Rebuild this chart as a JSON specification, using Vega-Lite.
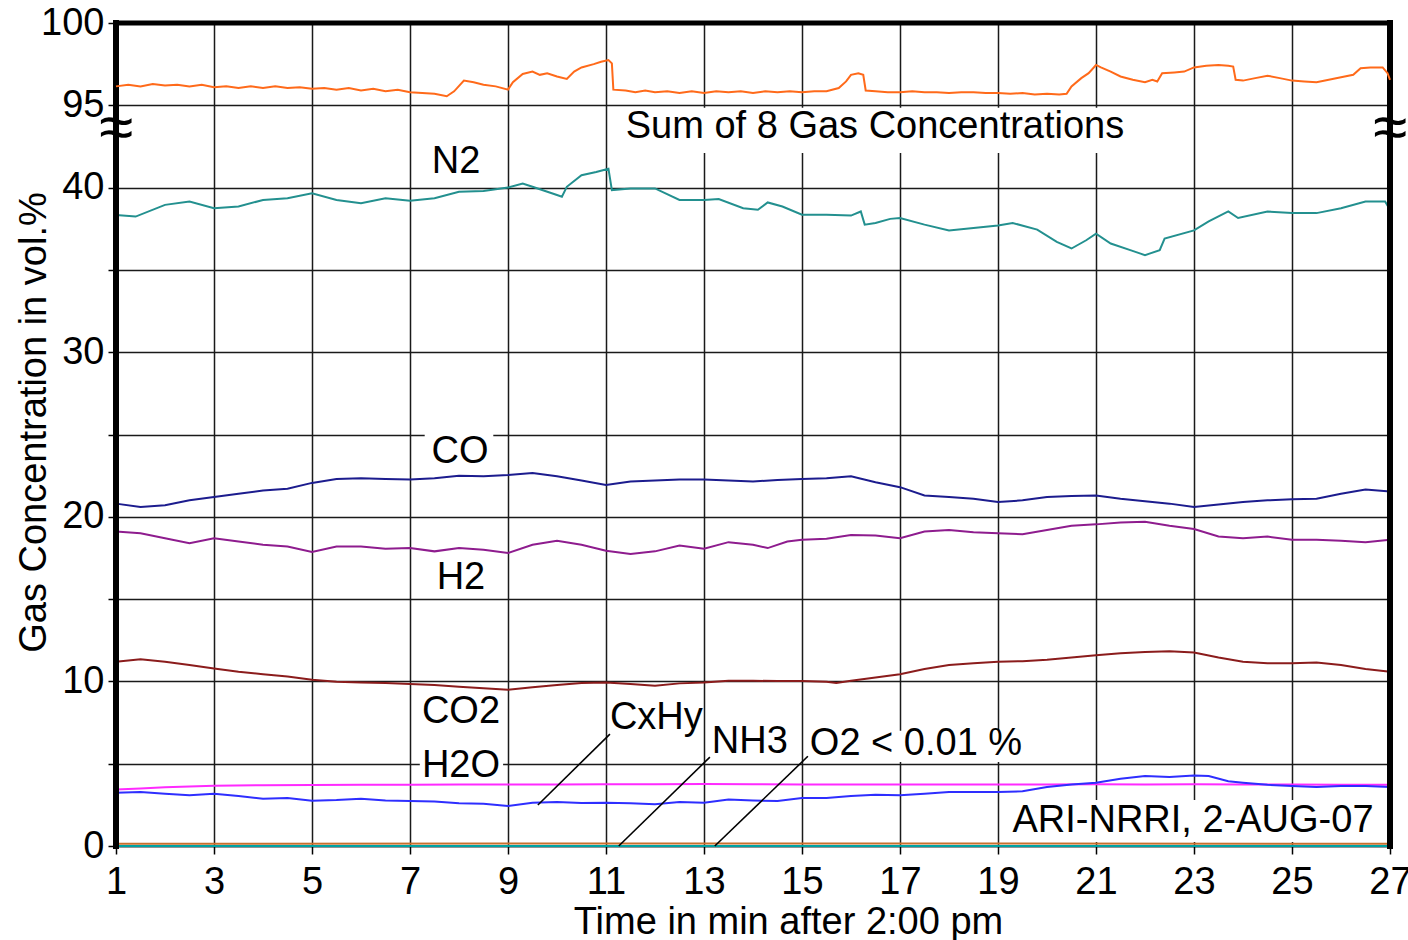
{
  "$schema": "https://vega.github.io/schema/vega-lite/v6.json",
  "width": 1274,
  "height": 823,
  "autosize": "none",
  "padding": {"left": 116, "top": 23, "right": 18, "bottom": 94},
  "background": "white",
  "config": {
    "font": "Liberation Sans",
    "view": {"stroke": null},
    "axis": {
      "labelFont": "Liberation Sans",
      "labelFontSize": 38,
      "labelColor": "black",
      "titleFont": "Liberation Sans",
      "titleFontSize": 38,
      "titleFontWeight": "normal",
      "titleColor": "black",
      "tickColor": "black",
      "tickWidth": 1.5,
      "gridColor": "#1a1a1a",
      "gridWidth": 1.5,
      "gridOpacity": 1,
      "labelOverlap": false,
      "labelBound": false,
      "labelFlush": false
    }
  },
  "datasets": {
    "gases": [
      {"gas":"N2","t":1.0,"v":38.34},{"gas":"N2","t":1.4,"v":38.24},{"gas":"N2","t":2.0,"v":38.95},{"gas":"N2","t":2.5,"v":39.15},{"gas":"N2","t":3.0,"v":38.75},{"gas":"N2","t":3.5,"v":38.85},{"gas":"N2","t":4.0,"v":39.25},{"gas":"N2","t":4.5,"v":39.35},{"gas":"N2","t":5.0,"v":39.65},{"gas":"N2","t":5.5,"v":39.25},{"gas":"N2","t":6.0,"v":39.05},{"gas":"N2","t":6.5,"v":39.35},{"gas":"N2","t":7.0,"v":39.2},{"gas":"N2","t":7.5,"v":39.35},{"gas":"N2","t":8.0,"v":39.75},{"gas":"N2","t":8.5,"v":39.8},{"gas":"N2","t":9.0,"v":40.0},{"gas":"N2","t":9.3,"v":40.25},{"gas":"N2","t":9.5,"v":40.05},{"gas":"N2","t":10.0,"v":39.55},{"gas":"N2","t":10.1,"v":39.45},{"gas":"N2","t":10.2,"v":40.05},{"gas":"N2","t":10.5,"v":40.75},{"gas":"N2","t":10.8,"v":40.95},{"gas":"N2","t":11.05,"v":41.15},{"gas":"N2","t":11.12,"v":39.85},{"gas":"N2","t":11.5,"v":39.95},{"gas":"N2","t":12.0,"v":39.95},{"gas":"N2","t":12.5,"v":39.25},{"gas":"N2","t":13.0,"v":39.25},{"gas":"N2","t":13.3,"v":39.3},{"gas":"N2","t":13.8,"v":38.75},{"gas":"N2","t":14.1,"v":38.65},{"gas":"N2","t":14.3,"v":39.1},{"gas":"N2","t":14.6,"v":38.85},{"gas":"N2","t":15.0,"v":38.35},{"gas":"N2","t":15.5,"v":38.35},{"gas":"N2","t":16.0,"v":38.3},{"gas":"N2","t":16.2,"v":38.55},{"gas":"N2","t":16.28,"v":37.75},{"gas":"N2","t":16.5,"v":37.85},{"gas":"N2","t":16.8,"v":38.1},{"gas":"N2","t":17.0,"v":38.15},{"gas":"N2","t":17.5,"v":37.75},{"gas":"N2","t":18.0,"v":37.4},{"gas":"N2","t":18.5,"v":37.55},{"gas":"N2","t":19.0,"v":37.7},{"gas":"N2","t":19.3,"v":37.85},{"gas":"N2","t":19.8,"v":37.45},{"gas":"N2","t":20.2,"v":36.7},{"gas":"N2","t":20.5,"v":36.3},{"gas":"N2","t":20.8,"v":36.8},{"gas":"N2","t":21.0,"v":37.2},{"gas":"N2","t":21.3,"v":36.6},{"gas":"N2","t":21.7,"v":36.2},{"gas":"N2","t":22.0,"v":35.9},{"gas":"N2","t":22.3,"v":36.2},{"gas":"N2","t":22.4,"v":36.9},{"gas":"N2","t":23.0,"v":37.4},{"gas":"N2","t":23.3,"v":37.95},{"gas":"N2","t":23.7,"v":38.55},{"gas":"N2","t":23.9,"v":38.15},{"gas":"N2","t":24.5,"v":38.55},{"gas":"N2","t":25.0,"v":38.45},{"gas":"N2","t":25.5,"v":38.45},{"gas":"N2","t":26.0,"v":38.75},{"gas":"N2","t":26.5,"v":39.15},{"gas":"N2","t":26.9,"v":39.15},{"gas":"N2","t":27.0,"v":38.65},
      {"gas":"CO","t":1.0,"v":20.8},{"gas":"CO","t":1.5,"v":20.6},{"gas":"CO","t":2.0,"v":20.7},{"gas":"CO","t":2.5,"v":21.0},{"gas":"CO","t":3.0,"v":21.2},{"gas":"CO","t":3.5,"v":21.4},{"gas":"CO","t":4.0,"v":21.6},{"gas":"CO","t":4.5,"v":21.7},{"gas":"CO","t":5.0,"v":22.06},{"gas":"CO","t":5.5,"v":22.3},{"gas":"CO","t":6.0,"v":22.34},{"gas":"CO","t":6.5,"v":22.3},{"gas":"CO","t":7.0,"v":22.26},{"gas":"CO","t":7.5,"v":22.34},{"gas":"CO","t":8.0,"v":22.5},{"gas":"CO","t":8.5,"v":22.46},{"gas":"CO","t":9.0,"v":22.54},{"gas":"CO","t":9.5,"v":22.66},{"gas":"CO","t":10.0,"v":22.46},{"gas":"CO","t":10.5,"v":22.2},{"gas":"CO","t":11.0,"v":21.94},{"gas":"CO","t":11.5,"v":22.14},{"gas":"CO","t":12.0,"v":22.2},{"gas":"CO","t":12.5,"v":22.26},{"gas":"CO","t":13.0,"v":22.26},{"gas":"CO","t":13.5,"v":22.2},{"gas":"CO","t":14.0,"v":22.14},{"gas":"CO","t":14.5,"v":22.24},{"gas":"CO","t":15.0,"v":22.3},{"gas":"CO","t":15.5,"v":22.34},{"gas":"CO","t":16.0,"v":22.46},{"gas":"CO","t":16.5,"v":22.1},{"gas":"CO","t":17.0,"v":21.8},{"gas":"CO","t":17.5,"v":21.3},{"gas":"CO","t":18.0,"v":21.2},{"gas":"CO","t":18.5,"v":21.1},{"gas":"CO","t":19.0,"v":20.9},{"gas":"CO","t":19.5,"v":21.0},{"gas":"CO","t":20.0,"v":21.2},{"gas":"CO","t":20.5,"v":21.26},{"gas":"CO","t":21.0,"v":21.3},{"gas":"CO","t":21.5,"v":21.1},{"gas":"CO","t":22.0,"v":20.94},{"gas":"CO","t":22.5,"v":20.8},{"gas":"CO","t":23.0,"v":20.6},{"gas":"CO","t":23.5,"v":20.74},{"gas":"CO","t":24.0,"v":20.9},{"gas":"CO","t":24.5,"v":21.0},{"gas":"CO","t":25.0,"v":21.06},{"gas":"CO","t":25.5,"v":21.1},{"gas":"CO","t":26.0,"v":21.4},{"gas":"CO","t":26.5,"v":21.66},{"gas":"CO","t":27.0,"v":21.54},
      {"gas":"H2","t":1.0,"v":19.1},{"gas":"H2","t":1.5,"v":19.0},{"gas":"H2","t":2.0,"v":18.7},{"gas":"H2","t":2.5,"v":18.4},{"gas":"H2","t":3.0,"v":18.7},{"gas":"H2","t":3.5,"v":18.5},{"gas":"H2","t":4.0,"v":18.3},{"gas":"H2","t":4.5,"v":18.2},{"gas":"H2","t":5.0,"v":17.86},{"gas":"H2","t":5.5,"v":18.2},{"gas":"H2","t":6.0,"v":18.2},{"gas":"H2","t":6.5,"v":18.06},{"gas":"H2","t":7.0,"v":18.1},{"gas":"H2","t":7.5,"v":17.9},{"gas":"H2","t":8.0,"v":18.1},{"gas":"H2","t":8.5,"v":18.0},{"gas":"H2","t":9.0,"v":17.8},{"gas":"H2","t":9.5,"v":18.3},{"gas":"H2","t":10.0,"v":18.54},{"gas":"H2","t":10.5,"v":18.3},{"gas":"H2","t":11.0,"v":17.94},{"gas":"H2","t":11.5,"v":17.74},{"gas":"H2","t":12.0,"v":17.9},{"gas":"H2","t":12.5,"v":18.26},{"gas":"H2","t":13.0,"v":18.06},{"gas":"H2","t":13.5,"v":18.46},{"gas":"H2","t":14.0,"v":18.3},{"gas":"H2","t":14.3,"v":18.1},{"gas":"H2","t":14.7,"v":18.5},{"gas":"H2","t":15.0,"v":18.6},{"gas":"H2","t":15.5,"v":18.66},{"gas":"H2","t":16.0,"v":18.9},{"gas":"H2","t":16.5,"v":18.86},{"gas":"H2","t":17.0,"v":18.7},{"gas":"H2","t":17.5,"v":19.1},{"gas":"H2","t":18.0,"v":19.2},{"gas":"H2","t":18.5,"v":19.06},{"gas":"H2","t":19.0,"v":19.0},{"gas":"H2","t":19.5,"v":18.94},{"gas":"H2","t":20.0,"v":19.2},{"gas":"H2","t":20.5,"v":19.46},{"gas":"H2","t":21.0,"v":19.54},{"gas":"H2","t":21.5,"v":19.66},{"gas":"H2","t":22.0,"v":19.7},{"gas":"H2","t":22.5,"v":19.46},{"gas":"H2","t":23.0,"v":19.26},{"gas":"H2","t":23.5,"v":18.8},{"gas":"H2","t":24.0,"v":18.7},{"gas":"H2","t":24.5,"v":18.8},{"gas":"H2","t":25.0,"v":18.6},{"gas":"H2","t":25.5,"v":18.6},{"gas":"H2","t":26.0,"v":18.54},{"gas":"H2","t":26.5,"v":18.46},{"gas":"H2","t":27.0,"v":18.6},
      {"gas":"CO2","t":1.0,"v":11.19},{"gas":"CO2","t":1.5,"v":11.35},{"gas":"CO2","t":2.0,"v":11.19},{"gas":"CO2","t":2.5,"v":10.99},{"gas":"CO2","t":3.0,"v":10.79},{"gas":"CO2","t":3.5,"v":10.58},{"gas":"CO2","t":4.0,"v":10.44},{"gas":"CO2","t":4.5,"v":10.3},{"gas":"CO2","t":5.0,"v":10.1},{"gas":"CO2","t":5.5,"v":9.98},{"gas":"CO2","t":6.0,"v":9.94},{"gas":"CO2","t":6.5,"v":9.9},{"gas":"CO2","t":7.0,"v":9.84},{"gas":"CO2","t":7.5,"v":9.78},{"gas":"CO2","t":8.0,"v":9.68},{"gas":"CO2","t":8.5,"v":9.58},{"gas":"CO2","t":9.0,"v":9.5},{"gas":"CO2","t":9.5,"v":9.64},{"gas":"CO2","t":10.0,"v":9.78},{"gas":"CO2","t":10.5,"v":9.9},{"gas":"CO2","t":11.0,"v":9.94},{"gas":"CO2","t":11.5,"v":9.84},{"gas":"CO2","t":12.0,"v":9.74},{"gas":"CO2","t":12.5,"v":9.88},{"gas":"CO2","t":13.0,"v":9.94},{"gas":"CO2","t":13.5,"v":10.04},{"gas":"CO2","t":14.0,"v":10.04},{"gas":"CO2","t":14.5,"v":10.02},{"gas":"CO2","t":15.0,"v":10.02},{"gas":"CO2","t":15.5,"v":9.98},{"gas":"CO2","t":15.7,"v":9.9},{"gas":"CO2","t":16.0,"v":10.04},{"gas":"CO2","t":16.5,"v":10.24},{"gas":"CO2","t":17.0,"v":10.44},{"gas":"CO2","t":17.5,"v":10.75},{"gas":"CO2","t":18.0,"v":10.99},{"gas":"CO2","t":18.5,"v":11.11},{"gas":"CO2","t":19.0,"v":11.19},{"gas":"CO2","t":19.5,"v":11.23},{"gas":"CO2","t":20.0,"v":11.31},{"gas":"CO2","t":20.5,"v":11.45},{"gas":"CO2","t":21.0,"v":11.59},{"gas":"CO2","t":21.5,"v":11.71},{"gas":"CO2","t":22.0,"v":11.79},{"gas":"CO2","t":22.5,"v":11.83},{"gas":"CO2","t":23.0,"v":11.75},{"gas":"CO2","t":23.5,"v":11.45},{"gas":"CO2","t":24.0,"v":11.19},{"gas":"CO2","t":24.5,"v":11.11},{"gas":"CO2","t":25.0,"v":11.11},{"gas":"CO2","t":25.5,"v":11.15},{"gas":"CO2","t":26.0,"v":10.99},{"gas":"CO2","t":26.5,"v":10.75},{"gas":"CO2","t":27.0,"v":10.58},
      {"gas":"H2O","t":1.0,"v":3.43},{"gas":"H2O","t":1.5,"v":3.5},{"gas":"H2O","t":2.0,"v":3.57},{"gas":"H2O","t":2.5,"v":3.62},{"gas":"H2O","t":3.0,"v":3.66},{"gas":"H2O","t":4.0,"v":3.69},{"gas":"H2O","t":5.0,"v":3.71},{"gas":"H2O","t":6.0,"v":3.72},{"gas":"H2O","t":7.0,"v":3.72},{"gas":"H2O","t":8.0,"v":3.73},{"gas":"H2O","t":9.0,"v":3.73},{"gas":"H2O","t":10.0,"v":3.74},{"gas":"H2O","t":11.0,"v":3.75},{"gas":"H2O","t":12.0,"v":3.75},{"gas":"H2O","t":13.0,"v":3.76},{"gas":"H2O","t":14.0,"v":3.75},{"gas":"H2O","t":15.0,"v":3.74},{"gas":"H2O","t":16.0,"v":3.74},{"gas":"H2O","t":17.0,"v":3.73},{"gas":"H2O","t":18.0,"v":3.74},{"gas":"H2O","t":19.0,"v":3.73},{"gas":"H2O","t":20.0,"v":3.74},{"gas":"H2O","t":21.0,"v":3.75},{"gas":"H2O","t":22.0,"v":3.74},{"gas":"H2O","t":23.0,"v":3.75},{"gas":"H2O","t":24.0,"v":3.74},{"gas":"H2O","t":25.0,"v":3.73},{"gas":"H2O","t":26.0,"v":3.72},{"gas":"H2O","t":27.0,"v":3.72},
      {"gas":"CxHy","t":1.0,"v":3.24},{"gas":"CxHy","t":1.5,"v":3.28},{"gas":"CxHy","t":2.0,"v":3.18},{"gas":"CxHy","t":2.5,"v":3.08},{"gas":"CxHy","t":3.0,"v":3.18},{"gas":"CxHy","t":3.5,"v":3.04},{"gas":"CxHy","t":4.0,"v":2.87},{"gas":"CxHy","t":4.5,"v":2.91},{"gas":"CxHy","t":5.0,"v":2.75},{"gas":"CxHy","t":5.5,"v":2.79},{"gas":"CxHy","t":6.0,"v":2.87},{"gas":"CxHy","t":6.5,"v":2.77},{"gas":"CxHy","t":7.0,"v":2.73},{"gas":"CxHy","t":7.5,"v":2.71},{"gas":"CxHy","t":8.0,"v":2.59},{"gas":"CxHy","t":8.5,"v":2.57},{"gas":"CxHy","t":9.0,"v":2.43},{"gas":"CxHy","t":9.5,"v":2.63},{"gas":"CxHy","t":10.0,"v":2.67},{"gas":"CxHy","t":10.5,"v":2.61},{"gas":"CxHy","t":11.0,"v":2.63},{"gas":"CxHy","t":11.5,"v":2.59},{"gas":"CxHy","t":12.0,"v":2.53},{"gas":"CxHy","t":12.5,"v":2.67},{"gas":"CxHy","t":13.0,"v":2.63},{"gas":"CxHy","t":13.5,"v":2.83},{"gas":"CxHy","t":14.0,"v":2.77},{"gas":"CxHy","t":14.5,"v":2.73},{"gas":"CxHy","t":15.0,"v":2.91},{"gas":"CxHy","t":15.5,"v":2.91},{"gas":"CxHy","t":16.0,"v":3.04},{"gas":"CxHy","t":16.5,"v":3.12},{"gas":"CxHy","t":17.0,"v":3.08},{"gas":"CxHy","t":17.5,"v":3.18},{"gas":"CxHy","t":18.0,"v":3.28},{"gas":"CxHy","t":18.5,"v":3.28},{"gas":"CxHy","t":19.0,"v":3.28},{"gas":"CxHy","t":19.5,"v":3.32},{"gas":"CxHy","t":20.0,"v":3.58},{"gas":"CxHy","t":20.5,"v":3.74},{"gas":"CxHy","t":21.0,"v":3.84},{"gas":"CxHy","t":21.5,"v":4.09},{"gas":"CxHy","t":22.0,"v":4.25},{"gas":"CxHy","t":22.5,"v":4.19},{"gas":"CxHy","t":23.0,"v":4.29},{"gas":"CxHy","t":23.3,"v":4.25},{"gas":"CxHy","t":23.7,"v":3.93},{"gas":"CxHy","t":24.0,"v":3.84},{"gas":"CxHy","t":24.5,"v":3.72},{"gas":"CxHy","t":25.0,"v":3.64},{"gas":"CxHy","t":25.5,"v":3.58},{"gas":"CxHy","t":26.0,"v":3.64},{"gas":"CxHy","t":26.5,"v":3.64},{"gas":"CxHy","t":27.0,"v":3.58},
      {"gas":"NH3","t":1.0,"v":0.14},{"gas":"NH3","t":14.0,"v":0.15},{"gas":"NH3","t":27.0,"v":0.14},
      {"gas":"O2","t":1.0,"v":0.0},{"gas":"O2","t":14.0,"v":0.0},{"gas":"O2","t":27.0,"v":0.0}
    ],
    "sum": [
      {"t":1.0,"v":96.15},{"t":1.25,"v":96.25},{"t":1.5,"v":96.15},{"t":1.75,"v":96.3},{"t":2.0,"v":96.2},{"t":2.25,"v":96.25},{"t":2.5,"v":96.15},{"t":2.75,"v":96.25},{"t":3.0,"v":96.1},{"t":3.25,"v":96.15},{"t":3.5,"v":96.05},{"t":3.75,"v":96.15},{"t":4.0,"v":96.05},{"t":4.25,"v":96.15},{"t":4.5,"v":96.05},{"t":4.75,"v":96.1},{"t":5.0,"v":96.0},{"t":5.25,"v":96.05},{"t":5.5,"v":95.95},{"t":5.75,"v":96.05},{"t":6.0,"v":95.9},{"t":6.25,"v":96.0},{"t":6.5,"v":95.85},{"t":6.75,"v":95.95},{"t":7.0,"v":95.8},{"t":7.25,"v":95.75},{"t":7.5,"v":95.7},{"t":7.75,"v":95.55},{"t":7.9,"v":95.85},{"t":8.1,"v":96.5},{"t":8.3,"v":96.4},{"t":8.5,"v":96.25},{"t":8.75,"v":96.15},{"t":9.0,"v":95.95},{"t":9.1,"v":96.4},{"t":9.3,"v":96.9},{"t":9.5,"v":97.05},{"t":9.65,"v":96.85},{"t":9.8,"v":96.95},{"t":10.0,"v":96.75},{"t":10.2,"v":96.6},{"t":10.35,"v":97.05},{"t":10.5,"v":97.3},{"t":10.75,"v":97.5},{"t":10.9,"v":97.65},{"t":11.05,"v":97.75},{"t":11.12,"v":97.55},{"t":11.15,"v":95.95},{"t":11.4,"v":95.9},{"t":11.6,"v":95.8},{"t":11.8,"v":95.9},{"t":12.0,"v":95.8},{"t":12.25,"v":95.85},{"t":12.5,"v":95.75},{"t":12.75,"v":95.85},{"t":13.0,"v":95.75},{"t":13.25,"v":95.85},{"t":13.5,"v":95.8},{"t":13.75,"v":95.85},{"t":14.0,"v":95.75},{"t":14.25,"v":95.85},{"t":14.5,"v":95.8},{"t":14.75,"v":95.85},{"t":15.0,"v":95.8},{"t":15.25,"v":95.85},{"t":15.5,"v":95.85},{"t":15.75,"v":96.05},{"t":15.9,"v":96.45},{"t":16.0,"v":96.85},{"t":16.15,"v":96.95},{"t":16.25,"v":96.85},{"t":16.3,"v":95.9},{"t":16.5,"v":95.85},{"t":16.75,"v":95.8},{"t":17.0,"v":95.8},{"t":17.25,"v":95.85},{"t":17.5,"v":95.8},{"t":17.75,"v":95.8},{"t":18.0,"v":95.75},{"t":18.25,"v":95.8},{"t":18.5,"v":95.8},{"t":18.75,"v":95.75},{"t":19.0,"v":95.75},{"t":19.25,"v":95.7},{"t":19.5,"v":95.75},{"t":19.75,"v":95.65},{"t":20.0,"v":95.7},{"t":20.25,"v":95.65},{"t":20.4,"v":95.7},{"t":20.5,"v":96.15},{"t":20.7,"v":96.65},{"t":20.85,"v":96.95},{"t":21.0,"v":97.45},{"t":21.1,"v":97.3},{"t":21.3,"v":97.05},{"t":21.5,"v":96.75},{"t":21.75,"v":96.55},{"t":22.0,"v":96.4},{"t":22.15,"v":96.55},{"t":22.25,"v":96.45},{"t":22.35,"v":96.95},{"t":22.6,"v":97.0},{"t":22.8,"v":97.05},{"t":23.0,"v":97.3},{"t":23.25,"v":97.4},{"t":23.5,"v":97.45},{"t":23.7,"v":97.4},{"t":23.8,"v":97.35},{"t":23.85,"v":96.55},{"t":24.0,"v":96.5},{"t":24.25,"v":96.65},{"t":24.5,"v":96.8},{"t":24.75,"v":96.65},{"t":25.0,"v":96.5},{"t":25.25,"v":96.45},{"t":25.5,"v":96.4},{"t":25.75,"v":96.55},{"t":26.0,"v":96.7},{"t":26.25,"v":96.85},{"t":26.4,"v":97.25},{"t":26.6,"v":97.3},{"t":26.85,"v":97.3},{"t":26.95,"v":96.95},{"t":27.0,"v":96.55}
    ],
    "masks": [
      {"t1":11.2,"t2":21.8,"v1":42.1,"v2":44.85},
      {"t1":7.3,"t2":8.7,"v1":22.9,"v2":25.3},
      {"t1":7.2,"t2":8.9,"v1":4.0,"v2":5.8},
      {"t1":15.15,"t2":19.4,"v1":5.1,"v2":7.0},
      {"t1":19.25,"t2":26.7,"v1":0.25,"v2":2.8}
    ],
    "leaders": [
      {"t1":11.08,"v1":6.8,"t2":9.61,"v2":2.49},
      {"t1":13.12,"v1":5.4,"t2":11.26,"v2":0.0},
      {"t1":15.12,"v1":5.45,"t2":13.22,"v2":0.0}
    ],
    "centerLabels": [
      {"t":16.49,"v":43.67,"text":"Sum of 8 Gas Concentrations"},
      {"t":7.94,"v":41.55,"text":"N2"},
      {"t":8.02,"v":23.95,"text":"CO"},
      {"t":8.04,"v":16.3,"text":"H2"},
      {"t":8.04,"v":8.17,"text":"CO2"},
      {"t":8.04,"v":4.89,"text":"H2O"},
      {"t":22.98,"v":1.49,"text":"ARI-NRRI, 2-AUG-07"}
    ],
    "leftLabels": [
      {"t":11.08,"v":7.8,"text":"CxHy"},
      {"t":13.16,"v":6.34,"text":"NH3"},
      {"t":15.16,"v":6.22,"text":"O2 < 0.01 %"}
    ],
    "breaks": [
      {"t":1,"v":43.55,"text":"≈"},
      {"t":27,"v":43.55,"text":"≈"}
    ],
    "frame": [{"left": 1, "right": 27, "top": 50}]
  },
  "layer": [
    {
      "layer": [
        {
          "data": {"name": "masks"},
          "mark": {"type": "rect", "color": "white"},
          "encoding": {
            "x": {"field": "t1", "type": "quantitative", "scale": {"domain": [1, 27], "nice": false, "zero": false},
              "axis": {"values": [1,3,5,7,9,11,13,15,17,19,21,23,25,27], "grid": true, "tickSize": 8, "labelPadding": 9, "domain": true, "domainColor": "black", "domainWidth": 1.5,
                "title": "Time in min after 2:00 pm", "titleX": 672, "titleY": 87, "titleBaseline": "alphabetic"}},
            "x2": {"field": "t2"},
            "y": {"field": "v1", "type": "quantitative", "scale": {"domain": [0, 50], "nice": false, "zero": false},
              "axis": {"values": [0,5,10,15,20,25,30,35,40,45,50], "grid": true, "tickSize": 8, "labelPadding": 4, "domain": false,
                "labelExpr": "datum.value == 45 ? '95' : datum.value == 50 ? '100' : (datum.value % 10 == 0 ? datum.label : '')",
                "title": "Gas Concentration in vol.%", "titleX": -71, "titleY": 399, "titleBaseline": "alphabetic", "titleAngle": -90}},
            "y2": {"field": "v2"}
          }
        },
        {
          "data": {"name": "gases"},
          "mark": {"type": "line", "strokeWidth": 2},
          "encoding": {
            "x": {"field": "t", "type": "quantitative"},
            "y": {"field": "v", "type": "quantitative"},
            "color": {"field": "gas", "type": "nominal", "legend": null,
              "scale": {"domain": ["N2","CO","H2","CO2","H2O","CxHy","NH3","O2"],
                        "range": ["#23908F","#1C1C8E","#8E1C8E","#8B1C1C","#FF2AFF","#2E2EFF","#C8702E","#00A3A3"]}},
            "strokeWidth": {"condition": {"test": "datum.gas == 'NH3' || datum.gas == 'O2'", "value": 2.8}, "value": 2},
            "order": {"field": "t", "type": "quantitative"}
          }
        },
        {
          "data": {"name": "leaders"},
          "mark": {"type": "rule", "color": "black", "strokeWidth": 1.6},
          "encoding": {
            "x": {"field": "t1", "type": "quantitative"},
            "x2": {"field": "t2"},
            "y": {"field": "v1", "type": "quantitative"},
            "y2": {"field": "v2"}
          }
        },
        {
          "data": {"name": "frame"},
          "mark": {"type": "rule", "color": "black", "strokeWidth": 6, "strokeCap": "square"},
          "encoding": {"x": {"field": "left", "type": "quantitative"}}
        },
        {
          "data": {"name": "frame"},
          "mark": {"type": "rule", "color": "black", "strokeWidth": 6, "strokeCap": "square"},
          "encoding": {"x": {"field": "right", "type": "quantitative"}}
        },
        {
          "data": {"name": "frame"},
          "mark": {"type": "rule", "color": "black", "strokeWidth": 5, "strokeCap": "square"},
          "encoding": {"y": {"field": "top", "type": "quantitative"}}
        },
        {
          "data": {"name": "centerLabels"},
          "mark": {"type": "text", "align": "center", "baseline": "middle", "fontSize": 38, "font": "Liberation Sans", "color": "black"},
          "encoding": {
            "x": {"field": "t", "type": "quantitative"},
            "y": {"field": "v", "type": "quantitative"},
            "text": {"field": "text"}
          }
        },
        {
          "data": {"name": "leftLabels"},
          "mark": {"type": "text", "align": "left", "baseline": "middle", "fontSize": 38, "font": "Liberation Sans", "color": "black"},
          "encoding": {
            "x": {"field": "t", "type": "quantitative"},
            "y": {"field": "v", "type": "quantitative"},
            "text": {"field": "text"}
          }
        },
        {
          "data": {"name": "breaks"},
          "mark": {"type": "text", "align": "center", "baseline": "middle", "fontSize": 62, "font": "Liberation Sans", "color": "black"},
          "encoding": {
            "x": {"field": "t", "type": "quantitative"},
            "y": {"field": "v", "type": "quantitative"},
            "text": {"field": "text"}
          }
        }
      ]
    },
    {
      "data": {"name": "sum"},
      "mark": {"type": "line", "strokeWidth": 2, "color": "#FF6A1A"},
      "encoding": {
        "x": {"field": "t", "type": "quantitative"},
        "y": {"field": "v", "type": "quantitative", "scale": {"domain": [50, 100], "nice": false, "zero": false}, "axis": null}
      }
    }
  ],
  "resolve": {"scale": {"y": "independent"}}
}
